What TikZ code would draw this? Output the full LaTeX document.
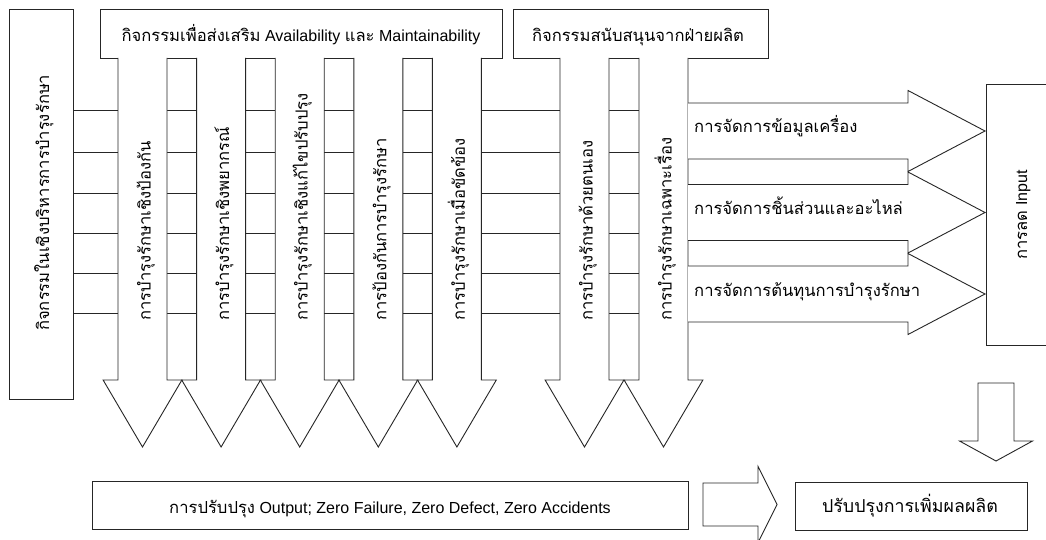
\documentclass[tikz,border=0pt]{standalone}
\usepackage{fontspec}
\setmainfont{Liberation Sans}
\newfontfamily\thaifont[Script=Thai]{Loma}
% Thai runs are set a little larger than the Latin ones
\newcommand{\thx}[1]{{\thaifont\fontsize{16.6}{19}\selectfont #1}}
\begin{document}
\begin{tikzpicture}[x=1pt,y=-1pt,
  outline/.style={draw=black!85,line width=0.9pt,line join=miter},
  blockarrow/.style={outline,fill=white},
  label/.style={inner sep=0pt,font=\fontsize{16}{18}\selectfont},
  vlabel/.style={label,rotate=90,anchor=base west},
]
\useasboundingbox[fill=white] (0,0) rectangle (1046,540);

% rungs across the gaps between the vertical arrows
\foreach \y in {110,152,193,233,273,313}
  \draw[outline] (73,\y) -- (688,\y);

% left management box
\draw[outline,fill=white] (9,9) rectangle (73,399);
\node[vlabel] (mgmt) at (49,331) {\thx{กิจกรรมในเชิงบริหารการบำรุงรักษา}};

% heading boxes
\draw[outline,fill=white] (100,9) rectangle (502,58);
\node[label,anchor=base] (head1) at (301,41.5)
  {\thx{กิจกรรมเพื่อส่งเสริม} Availability \thx{และ} Maintainability};
\draw[outline,fill=white] (513,9) rectangle (768,58);
\node[label,anchor=base] (head2) at (638,41.5) {\thx{กิจกรรมสนับสนุนจากฝ่ายผลิต}};

% vertical block arrows
\foreach \c/\t [count=\i] in {
  142.5/การบำรุงรักษาเชิงป้องกัน,
  221.1/การบำรุงรักษาเชิงพยากรณ์,
  299.7/การบำรุงรักษาเชิงแก้ไขปรับปรุง,
  378.3/การป้องกันการบำรุงรักษา,
  456.9/การบำรุงรักษาเมื่อขัดข้อง,
  584.5/การบำรุงรักษาด้วยตนเอง,
  663.5/การบำรุงรักษาเฉพาะเรื่อง}{
  \draw[blockarrow] (\c-24.5,58) -- (\c-24.5,380) -- (\c-39.4,380) -- (\c,447)
    -- (\c+39.4,380) -- (\c+24.5,380) -- (\c+24.5,58);
  \node[vlabel] (act\i) at (\c+8,321) {\thx{\t}};
}

% horizontal block arrows towards the input box
\foreach \c/\t [count=\i] in {
  131/การจัดการข้อมูลเครื่อง,
  212.5/การจัดการชิ้นส่วนและอะไหล่,
  294/การจัดการต้นทุนการบำรุงรักษา}{
  \draw[blockarrow] (688,\c-28) -- (908,\c-28) -- (908,\c-40.5) -- (985,\c)
    -- (908,\c+40.5) -- (908,\c+28) -- (688,\c+28);
  \node[label,anchor=base west] (sup\i) at (694,\c+2) {\thx{\t}};
}

% input reduction box
\draw[outline,fill=white] (986,84) rectangle (1070,345);
\node[label,rotate=90,anchor=base] (input) at (1027,215) {\thx{การลด} Input};

% down arrow to the productivity box
\draw[blockarrow] (978,383) -- (978,441) -- (959.5,441) -- (996,461)
  -- (1032.5,441) -- (1014,441) -- (1014,383) -- cycle;

% output box
\draw[outline,fill=white] (92,481) rectangle (688,529);
\node[label,anchor=base] (output) at (390,513)
  {\thx{การปรับปรุง} Output; Zero Failure, Zero Defect, Zero Accidents};

% right arrow to the productivity box
\draw[blockarrow] (703,483) -- (758,483) -- (758,466.5) -- (777,504.5)
  -- (758,542.5) -- (758,526) -- (703,526) -- cycle;

% productivity box
\draw[outline,fill=white] (795,482) rectangle (1027,530);
\node[label,anchor=base] (prod) at (910,512)
  {{\thaifont\fontsize{17.8}{21}\selectfont ปรับปรุงการเพิ่มผลผลิต}};
\end{tikzpicture}
\end{document}
